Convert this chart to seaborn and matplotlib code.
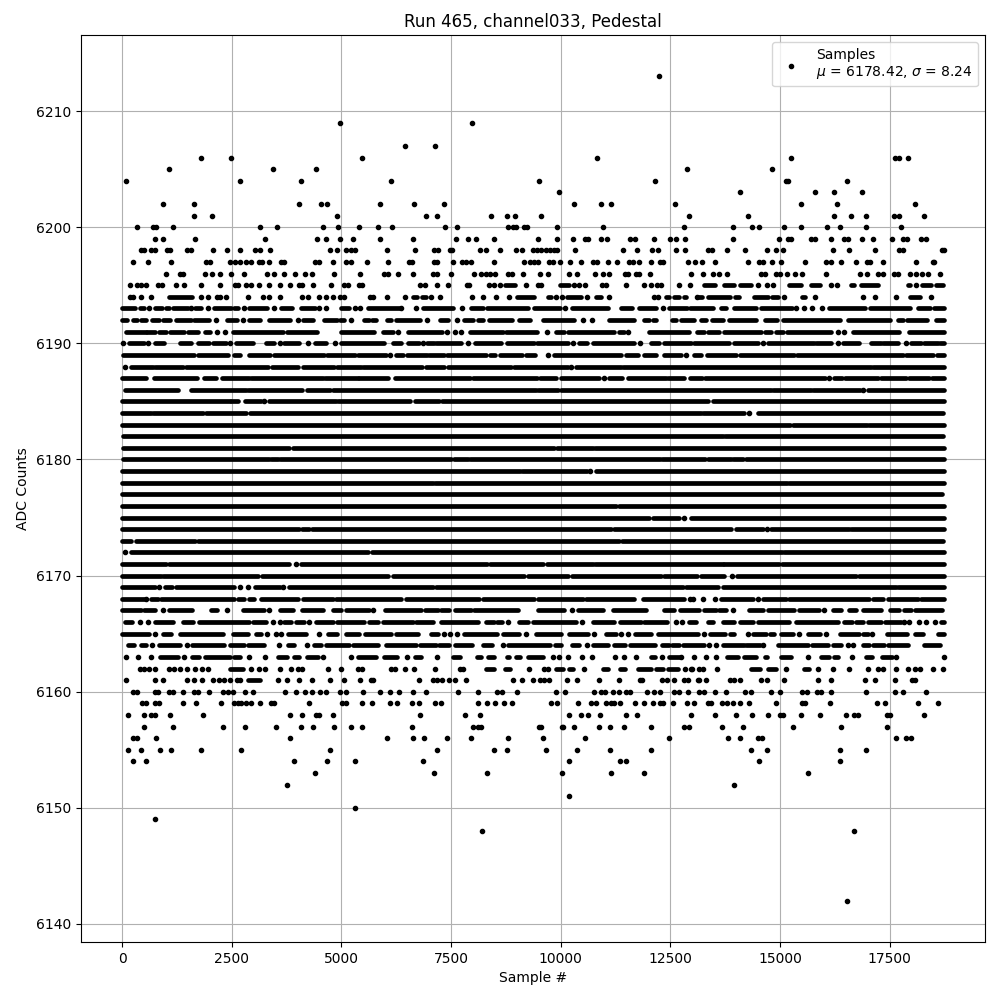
import matplotlib
matplotlib.use("Agg")
import matplotlib.pyplot as plt
import pandas as pd
import seaborn as sns

# Sample positions per ADC level, in hundreds of samples.
# A plain number is one isolated sample; a pair (a, b) is an unbroken run of samples.
level_6213 = [122.5]
level_6209 = [49.8, 79.9]
level_6207 = [64.6, 71.4]
level_6206 = [17.9, 24.9, 54.6, 108.4, 152.6, 176.3, 177.2, 179.3]
level_6205 = [10.6, 34.5, 44.3, 128.9, 148.3]
level_6204 = [0.8, 27, 40.9, 61.4, 95.1, 121.6, 151.5, 151.9, 165.4]
level_6203 = [99.7, 141, 158, 162.4, 168.8]
level_6202 = [9.4, 16.5, 40.4, 45.4, 46.8, 58.9, 66.6, 73.3, 103.1, 109.3, 111.6, 126.1, 154.7, 163.1, 180.9]
level_6201 = [16.3, 20.6, 49.1, 69.4, 71.9, 84.2, 87.8, 89.7, 95.6, 129.3, 142.8, 162.4, 166.1, 169.7, 176.1, 177.2, 182.9]
level_6200 = [3.5, 7.1, 7.8, 11.5, 31.5, 35.4, 45.7, 49.3, 54.1, 58.4, 61.6, 73.7, 76.4, 88.1, 89.2, 89.9, 91.7, 92.4, 99.2, 109.7, 128.2, 139.4, 143.7, 145.3, 151, 154.9, 160.8, 163.6, 169.7, 177.7]
level_6199 = [7.4, 9.4, 16.7, 32.5, 44.5, 46.4, 49.8, 52.7, 58.7, 66.4, 76.2, 78.9, 80.8, 84.7, 94.9, 99.2, 102.9, 105.6, 106.3, 109.3, 110.6, 115.9, 117, 121.4, 125, 126.4, 128.4, 139.4, 149.9, 151.9, 152.6, 157.2, 158.1, 161.7, 164.7, 165.6, 168.8, 171.3, 175.6, 178.1, 179, 182.2, 183.4]
level_6198 = [4.4, 4.9, 6.5, 7.6, 10.3, 11, 14.7, 15.6, 20.8, 24, 27, 30.4, 31.5, 33.8, 47.5, 49.1, 51.1, 52.3, 53.2, 60.5, 66.9, 71.2, 72.1, 74.8, 75.3, 81.7, 83, 86.2, 89.9, 91.3, 93.8, 94.5, 95.6, 96.6, 97.5, 98.5, 99.2, 103.3, 114.3, 117.5, 120.9, 122.3, 126.4, 128.4, 133.5, 134.6, 138, 142.1, 147.1, 149.2, 150.6, 162, 165.8, 171.8, 177.2, 178.1, 187, 187.4]
level_6197 = [2.6, 6, 11.2, 19.2, 20.1, 24.7, 25.8, 26.8, 28.3, 29.5, 31.3, 32, 33.4, 36.3, 37, 43.9, 45, 48.2, 51.1, 52.3, 55.9, 60.7, 65.5, 66, 71.2, 71.7, 75.5, 77.6, 78.5, 79.6, 84.9, 91.7, 93.1, 94, 94.9, 97.4, 98.3, 99.9, 102.2, 104.7, 107.4, 108.4, 110.9, 112.9, 115.7, 116.6, 117.9, 120.7, 122.7, 123.4, 129.1, 130.7, 132.3, 135.1, 142.8, 145.3, 146.2, 148.3, 150.3, 155.8, 160.4, 161.7, 164, 167.4, 169.9, 170.6, 173.6, 181.1, 184.8, 185.2]
level_6196 = [9.9, 13.3, 14, 18.8, 20.6, 22.4, 24.9, 27.7, 33.1, 34.7, 37, 39.5, 41.6, 43.4, 48.4, 54.3, 59.8, 60.7, 63, 66.4, 71, 71.7, 75.1, 80.3, 81.9, 83, 84, 85.1, 88, 89, 91.5, 95.4, 97.2, 101.8, 103.8, 107.9, 109.7, 111.1, 114.7, 115.4, 117.3, 117.9, 120.4, 129.8, 132.5, 134.8, 136.2, 138, 145.8, 146.5, 149.2, 150.1, 151.7, 153.5, 155.1, 160.6, 168.3, 169.9, 172.4, 173.6, 176.1, 177, 179.7, 181.1, 182.5, 183.8, 186.6]
level_6195 = [1.7, 3.5, 4.4, 5.5, 8.1, 9, 12.4, 14.2, 18.1, 22.4, 25.8, 26.5, 28.3, 29.3, 31.3, 33.6, 35.9, 38.4, 40.4, 41.1, 43.6, 47.7, 50.7, 51.6, 54.1, 54.8, 68, 69.1, 71.7, 74.4, 78.7, 79.2, 83.7, 84.9, 86.2, (87.4, 89.7), 92.2, 94.9, 95.6, (99.9, 102), 103.1, 104.3, 105.6, 109.5, 110.4, 115, 119, 120.7, 122, 123, 127, 129.6, (132.8, 135.1), (137.3, 139.6), (141, 143.3), 145.1, 147.1, 148.5, (152.1, 154.9), (157.2, 159.2), 161.7, 163.1, (166.3, 167), (168.6, 172.4), (179.3, 179.7), 181.1, (182.5, 184.5), (185.7, 187.3)]
level_6194 = [1.9, 2.6, 4.4, 6.7, (10.8, 16), 18.1, 19.7, 21.7, 22.4, 23.8, 28.8, 32.2, 33.6, 35.9, 41.1, 42.5, 44.8, 46.4, 48.2, 49.6, 50.7, 56.6, 57.3, 60.5, 64.4, (66.4, 67.3), (68.5, 69.4), 70.5, 72.6, 79.9, 82.4, 85.3, 88.3, (90.1, 94), (97.2, 97.9), 99, 100.4, (101.5, 104.7), 105.9, (108.1, 109.3), 111.1, 121.4, 122.3, (124.1, 124.8), (125.9, 127), (128.2, 128.7), 131.2, (131.2, 132.3), (133.7, 138.7), (139.8, 140.7), (144.2, 147.4), (148.3, 149.6), 151, (155.1, 155.8), 157.9, 169, 171.8, 176.5, (179.7, 182), 184.5]
level_6193 = [(0, 3), (4, 5.1), 6.2, (7.6, 9.2), (10.1, 10.8), (11.7, 15.1), 15.8, (16.7, 18.1), 19.7, (21, 24.9), (25.6, 26.5), 27.9, (29, 33.1), 34.7, (36.3, 38.8), (40.9, 43.9), 45, 46.4, (50, 51.8), 53, 54.3, (56, 63.2), 63.6, 67.1, (68.7, 75.5), 77.6, (79.6, 82.4), (83.1, 92.6), (94, 99.9), 101.1, (102.7, 110.9), (113.8, 116.3), (117.9, 121.8), 123.4, (124.8, 128.9), (129.6, 134.8), (136.6, 137.6), (139.6, 144.6), (145.8, 152.8), 153.7, 155.6, 157.4, 159.7, (161.3, 169.3), (170.6, 179.7), (181.6, 184.3), (185.2, 187.4)]
level_6192 = [(0, 1.1), (2.6, 3.3), (4.2, 5.5), (6.9, 8.5), (9.4, 11), (12.4, 15.6), (16.5, 19.9), 21.5, (24, 26.3), 27.6, (29, 31.5), (33.6, 38.4), 40.2, (41.3, 43.6), (46.1, 48.9), (49.8, 50.7), 52.3, (55.2, 56.2), (57, 58), (60.5, 61.4), (62.5, 68), 69.6, (72.6, 74.4), 76.4, (78, 80), (81.2, 82.4), (83.7, 88.8), (90.4, 93.1), (96, 103.1), 105.2, 107.2, (111.1, 116.8), (119, 120.2), (121.1, 121.8), (125.3, 126.4), (127.5, 130.5), (131.9, 133.2), (134.6, 137.1), (138.5, 144.6), (146.5, 149.4), (150.6, 163.8), (165.6, 175), (177, 178), (179, 183.6), (185.7, 187.4)]
level_6191 = [(0.9, 5.4), (5.6, 7.6), (8.5, 10.1), (11, 14.2), (15.1, 17.2), (19, 20.1), 21.7, 23.5, (25.4, 36.8), (37.5, 44.5), (50, 57.5), (59.4, 61.7), 63, (65.1, 72.9), 74.2, 75.8, 77.3, (79.4, 86.8), (87.5, 94.5), 96.8, (99, 100.7), (101.6, 112.2), (113.4, 114.5), 115.3, (120.2, 129.3), (131.2, 132.8), (133.5, 136.2), (137.3, 145.7), (146.5, 148), (149, 150.6), (151.6, 161.7), 163.2, 164.7, (166.6, 177.2), (179.5, 187.4)]
level_6190 = [0.2, (1.6, 5.1), 6, (7.4, 9.6), (13.1, 15.7), (17.2, 19.9), (20.7, 23.7), 24.5, (26, 29.8), (32.8, 34.7), 35.9, (37, 40.4), 42.5, (44, 46.5), 48.6, (49.9, 59.8), (61.7, 63.6), (65.3, 67.8), 68.7, (69.5, 71.2), (71.6, 77.3), 78.9, (80.5, 86.4), (87.7, 94), (94.7, 101.6), 102.9, (104.2, 106.1), (107.3, 116.8), 118.1, (120.6, 122.5), (123.6, 129.7), (130.5, 138.5), (139.6, 145), 146.1, (147.2, 157.8), (158.2, 161.7), 163.2, (164.3, 168.1), (170.8, 173.1), (173.6, 177), 178.8, (180, 182.2), (182.8, 186), (186.6, 187.4)]
level_6189 = [(0.2, 16.5), (17.2, 24.2), (25.6, 27), (29, 33.8), (34.6, 46), (46.7, 53.1), (53.9, 60.2), 61, (62.4, 64), (65, 69.5), (70, 73.5), (74, 83), (83.9, 85), (86.2, 91.1), (92, 94.1), 97.2, (98.5, 113.7), (114.9, 117.7), (119, 121.7), (123.5, 127.4), 128.7, (130.3, 131.9), (133.4, 140), (141, 153.3), (154, 178), (178.8, 185), (185.8, 187.4)]
level_6188 = [0.7, (2, 7), (7.5, 13.8), (14.6, 33.2), (34.1, 40.2), (41.2, 48.4), (49, 54.5), (55, 68.5), (69.3, 73.5), (74.4, 88.7), (89.3, 101.6), 102.4, (103.5, 113.7), (114.3, 170.8), (171.3, 187.4)]
level_6187 = [(0, 5.5), (7.2, 17), (18.6, 21.4), (22.7, 29), (29.5, 45.7), (46.3, 53.7), (54.1, 60.6), (62.2, 79.3), (80.1, 94.5), (95.3, 98.9), (100, 108.8), 109.9, (111.1, 114.1), (115.3, 124), (124.5, 128.2), (129.4, 132.2), (132.9, 160.3), 161.3, (162.4, 164.1), (164.8, 172.4), (173, 178.8), (179.5, 184.1), (184.6, 187.4)]
level_6186 = [(0.7, 12.7), (15.7, 28.3), (28.8, 41), (42.2, 47.5), (48, 94.4), (94.9, 99.5), (100, 148), (148.4, 157.1), (157.5, 168.3), 169, (170, 187.4)]
level_6185 = [(0, 24.5), (24.8, 26.5), (28, 31.7), 32.4, (33.6, 48.8), (49.3, 65.7), (66.8, 72.3), (72.9, 133.7), (134.7, 187.4)]
level_6184 = [(0, 6.6), (7, 18.4), (19.2, 28.3), (29.2, 131.9), (132.4, 141.9), 143, (145.1, 187.3)]
level_6183 = [(0, 152.4), (153.1, 169.8), (170.4, 187.4)]
level_6182 = [(0.1, 137.1), (137.5, 187.3)]
level_6181 = [(0.2, 38.1), (38.9, 98.5), (99.1, 107.3), (107.8, 187.4)]
level_6180 = [(0.2, 33.4), (34, 35.6), (36, 75), (75.7, 78.9), (79.4, 122.7), (123.2, 133), (133.5, 138.9), (139.4, 141.7), (142.3, 187.4)]
level_6179 = [(0, 90.8), (91.3, 106.1), 106.7, (108, 187.4)]
level_6178 = [(0, 71), (71.4, 151.6), (152, 187.4)]
level_6177 = [(0, 187)]
level_6176 = [(0, 112.6), (113.4, 187.4)]
level_6175 = [(0, 120.2), (121, 127), 128.2, (129.7, 187.4)]
level_6174 = [(0, 40.4), (41, 42.7), (43.2, 111.6), (112.2, 138.9), (139.9, 146.1), 147, (148, 165.7), (166.2, 187.4)]
level_6173 = [(0, 2), (3.2, 16.7), (17.2, 113.4), (113.9, 187.3)]
level_6172 = [0.7, (2, 56), (57, 150.4), (150.9, 187.4)]
level_6171 = [(0, 10), (10.6, 38.1), 39.7, (40.8, 83.3), (83.9, 96), (96.8, 107.3), (107.8, 137), (137.3, 149.9), (150.5, 187.4)]
level_6170 = [(0, 8.9), (9.3, 30.9), (32, 60.6), (61.7, 91.7), (92.6, 101.6), (102.7, 122.9), (123.5, 131.2), (132, 137.2), 139.1, (140.2, 167.4), (168, 187.4)]
level_6169 = [(0, 7.4), 8.5, (9.8, 11.4), (12.3, 25.6), 26.8, 28.8, (30.2, 35.9), 36.8, (38.1, 71), (71.5, 127.8), (128.6, 135.8), (137, 176.5), (176.9, 187.4)]
level_6168 = [(0, 4.9), 5.5, (6.6, 8.1), (8.9, 25.6), (26.4, 27.9), (29, 30), (31.7, 40), (41.2, 48), (48.8, 63.6), (64.7, 81.5), (82.2, 94), (94.8, 105), (105.8, 116.8), (118.7, 128.2), 129.6, 130.1, 132.5, 135.1, (136.6, 143.8), 144.9, (146.1, 151.4), (152, 170.4), (171.2, 173.4), (174.6, 181.4), (182.2, 187.4)]
level_6167 = [(0, 4.3), (5.1, 7.4), 9.4, (10.8, 15.9), (20.3, 21.7), 24, (27.5, 32.3), 33.6, (35.9, 38.9), (41, 45.7), (48, 49.9), (51.1, 56.4), 57.3, (60, 68.2), (69, 72), (72.7, 74.6), (75.8, 79.6), (80.3, 90.2), (94.8, 100.8), 102.7, (103.9, 109.6), (111.9, 119.5), (123.6, 125.9), (127.3, 131.6), (132.8, 135.4), (136.2, 137.7), 139.2, (143, 146.1), (147.4, 153.3), (154.4, 159), 160, (162, 164), (165.8, 167.4), (168.9, 173.1), (175, 177.2), (178.2, 179.9), (180.9, 187)]
level_6166 = [(0.7, 2.2), 4.1, 6, (7.5, 11.5), (14, 16.1), (17.6, 29), (29.8, 32.8), 34.3, 36.1, (37, 38.5), (39.7, 41.4), 42.7, (44.2, 48), (49, 55.2), (56.4, 58.3), (59.4, 66.3), (67, 70.8), (72.7, 81.2), (83, 84.9), (85.6, 86.6), 88, (90.6, 92.5), (93.6, 103.5), 104.8, (107.3, 112.2), (113.6, 118.3), (119, 124.3), 126.3, 127.7, (129.3, 130.9), (133.5, 134.7), (137, 139.6), (140.8, 143.8), (144.9, 152.1), (153.7, 163.2), (164.7, 166.4), (167.4, 168.9), (170.2, 173.1), (174, 177.6), 178.2, 179.5, 181.8, 183.3, 185.4, (186.7, 187.4)]
level_6165 = [(0, 6.2), 7.6, (9.3, 11.2), (13.1, 23), (25.2, 28.6), (30.5, 31.7), 33, 35, 36.3, (37.8, 42), 45, (47, 49), (51.1, 54.1), (55.5, 61.3), (62.5, 67.4), (70.4, 72.1), 73.3, 74.8, 76.4, (78, 85.6), (86.8, 90.4), 92, (94.4, 100.1), (102, 106.2), 107.7, (110.3, 112.6), 113.8, 115.4, (117, 120.6), (122.1, 131.4), 132.8, (134.1, 137.5), (138.7, 139.6), 142.8, (143.8, 146.8), (147.8, 148.7), (150.3, 153.1), 154.4, (156.3, 159.2), 160.4, (163.8, 168.1), (168.9, 170.2), 171.1, (174.4, 179), (180.9, 182.6), (186.1, 187.4)]
level_6164 = [(1.4, 2.8), (4.3, 5.5), 6.9, (8.5, 13.3), 14.7, (15.9, 23.3), (24.7, 27.9), (28.8, 32.4), 35.7, (37.9, 39.3), 42.2, (43.8, 45.4), (46.5, 51.8), (52.7, 58.3), (60.2, 67), (68, 71.6), (72.3, 74.6), (75.8, 79.8), (82.2, 84.3), 86.8, (88.1, 97.6), (98.7, 100.1), (102.5, 104.3), 105.9, (107.3, 110.9), (112.2, 114.7), (115.9, 121.5), (123.1, 124.8), (125.5, 127), (128, 132.8), 133.9, 135.5, (137, 141.9), (142.3, 145.5), 146.2, (149.5, 156.3), (157.3, 160.9), (162, 164), 165.5, 166.6, (168.9, 170.4), (171.2, 173.8), (174.6, 179.1), (182.8, 186.4)]
level_6163 = [0.8, 3.7, 6.7, (8.7, 12.8), 14.2, (15.9, 17.6), (19, 24.5), (25.6, 27), 29, 32.7, (35.6, 37.5), (39.1, 40.4), (42.2, 44.6), 45.7, 52.3, (53.7, 57.9), (59.8, 62.7), 65, (66.8, 68.2), 71.7, (75.5, 77.1), (80.9, 81.8), (83.5, 84.7), (87.8, 88.3), (89.8, 90.8), (92.6, 95.9), 98.3, 99.7, 101.6, 104.9, 107.2, 112.5, 114.5, 117.2, (120.6, 121.6), 123.2, (124.8, 127), 127.45, 130.5, 133.2, 135.5, (138, 140.5), (141.9, 144.6), (146.5, 147.1), (150.3, 152.5), 156.5, (159.4, 161.3), (162.4, 163.2), 166.5, (169.7, 171.1), (173.3, 175.5), 176.5, 187.4]
level_6162 = [4, 4.9, 6.2, 7.6, 10.6, 11.9, 13.1, 14.7, 16.7, 18.3, 19.5, (24.5, 27.5), 29.5, 31.3, 32.5, 35.9, 38.6, 40.2, 41.1, 47, 50, 53.9, 54.6, 61.4, 62.3, 64.4, 66.6, 71.4, 77.1, 77.8, (83, 84.9), (87.4, 88.5), 92.9, 96.3, 97.2, (98.9, 100.5), (102, 102.9), 105.4, (109.6, 110.7), (113.6, 114.7), (117.7, 120.6), (121.7, 123.3), (124.4, 126.7), 128.4, 129.8, 130, 131.6, 132.5, 135.7, (143.3, 145.5), (147.4, 149), 151.5, (155.6, 156.7), 158.8, 162, 165.8, 170.2, 172.4, 173.4, 176.5, 179.3, 180.7, 182, 184.8, 187.3]
level_6161 = [0.8, 7.4, 9.4, 14.9, 16.3, 18.3, 20.8, 22, 23.3, 24.7, 26.3, 27, (28.6, 31.5), 35.6, 37.7, 40.4, 43.4, 47.3, 50.5, 54.3, 56.8, 57.3, 67.6, 71, 71.7, 73, 74.6, 75.8, 78.5, 89.2, 91.3, 93.8, 95.4, 96.1, 97.4, 101.5, 103.8, 108.8, 113.4, 118.2, 118.6, 123.2, 124.3, 125.9, 128.2, 129.1, 131.4, 131.6, 133.2, 138.7, 139.6, 141, 145.8, 147.1, 151, 158.8, 161.7, 169.3, 171.8, 176.3, 180.2, 180.7]
level_6160 = [2.6, 3.5, 7.4, 8.1, 10.8, 11.5, 14, 16.5, 17.4, 19.9, 22.9, 24.2, 25.2, 28.1, 29.9, 37.2, 39.7, 41.6, 43.4, 45.2, 46.6, 49.8, 51.1, 55, 58.9, 61.2, 63.2, 66.4, 69.4, 76.7, 81.2, 85.6, 86.7, 90.1, 99, 101.1, 107.7, 109.3, 110.2, 112, 113.2, 115, 115.9, 119.8, 121.4, 122.7, 125.9, 127, 129.1, 131.6, 132.8, 135.3, 137.8, 142.1, 143.5, 148, 150.1, 155.1, 156.2, 158.5, 159.4, 161.7, 169.7, 176.3, 178.1, 183.4]
level_6159 = [4.6, 5.5, 7.6, 8.5, 14, 16.9, 22.6, 25.6, 26.5, 27.2, 28.3, 29.3, 31.5, 34, 34.7, 42.7, 50.2, 51.1, 54.8, 57, 61, 62.8, 66, 67.6, 71.4, 72.8, 81.2, 83.3, 85.1, 87.2, 89, 97.9, 99.2, 104, 107, 108.1, 110.4, 111.6, 112.2, 113.6, 117, 118.9, 121.1, 122.7, 123.4, 125.7, 128.9, 130.5, 133.5, 134.4, 136.9, 138, 139.2, 141, 143, 149.2, 155.1, 155.8, 161.5, 172.2, 174, 181.4, 186.1]
level_6158 = [1.4, 4.9, 6.7, 7.6, 11, 18.5, 38.2, 41.1, 44.3, 45, 48.2, 68, 78.3, 81.7, 101.8, 104.7, 106.3, 109, 115, 117.5, 129.8, 135.3, 140.1, 143.7, 147.4, 150.1, 150.8, 154.7, 159.2, 165.1, 167, 167.7, 174.5, 175.2, 182.9]
level_6157 = [5.1, 11.5, 22.9, 28.1, 35, 40.7, 43.6, 48.4, 52.3, 54.8, 66, 80.1, 81.2, 81.9, 95.1, 95.6, 100.2, 100.6, 103.1, 108.8, 111.3, 114.5, 120.7, 128.2, 129.3, 136.9, 141.7, 153, 164, 174.5]
level_6156 = [2.6, 3.3, 7.8, 38.2, 60.5, 66.4, 68.9, 74.2, 79.6, 88.1, 96, 105.6, 124.6, 138.2, 140.8, 144.9, 146, 176.5, 178.8, 180]
level_6155 = [1.4, 4.2, 8.7, 11.2, 18.1, 27.2, 47.5, 71.9, 84.9, 87.8, 96.7, 103.8, 111.3, 120.7, 143.3, 147.1, 163.6, 169.7]
level_6154 = [2.4, 5.5, 39.3, 46.8, 53.2, 68.7, 101.8, 113.6, 115, 145.3, 163.6]
level_6153 = [44.1, 71.2, 83.3, 100.2, 111.6, 118.9, 156.5]
level_6152 = [37.5, 139.6]
level_6151 = [102]
level_6150 = [53]
level_6149 = [7.4]
level_6148 = [82.1, 167]
level_6142 = [165.4]

adc_levels = [6213, 6209, 6207, 6206, 6205, 6204, 6203, 6202, 6201, 6200, 6199, 6198, 6197, 6196, 6195, 6194,
              6193, 6192, 6191, 6190, 6189, 6188, 6187, 6186, 6185, 6184, 6183, 6182, 6181, 6180, 6179, 6178,
              6177, 6176, 6175, 6174, 6173, 6172, 6171, 6170, 6169, 6168, 6167, 6166, 6165, 6164, 6163, 6162,
              6161, 6160, 6159, 6158, 6157, 6156, 6155, 6154, 6153, 6152, 6151, 6150, 6149, 6148, 6142]
level_samples = [globals()[f"level_{lev}"] for lev in adc_levels]

title_text = "Run 465, channel033, Pedestal"
x_label = "Sample #"
y_label = "ADC Counts"
legend_label = "Samples\n$\\mu$ = 6178.42, $\\sigma$ = 8.24"

dot_rows = []
run_rows = []
run_id = 0
for lev, items in zip(adc_levels, level_samples):
    for item in items:
        if isinstance(item, tuple):
            run_rows.append({"run": run_id, "sample": item[0] * 100, "adc": lev})
            run_rows.append({"run": run_id, "sample": item[1] * 100, "adc": lev})
            run_id += 1
        else:
            dot_rows.append({"sample": item * 100, "adc": lev})
dots = pd.DataFrame(dot_rows)
runs = pd.DataFrame(run_rows)

fig, ax = plt.subplots(figsize=(10, 10), dpi=100)
ax.grid(True)
sns.lineplot(data=runs, x="sample", y="adc", units="run", estimator=None, sort=False,
             color="black", linewidth=3.4, solid_capstyle="round", legend=False, ax=ax, zorder=2)
sns.scatterplot(data=dots, x="sample", y="adc", marker=".", s=36, color="black",
                edgecolor="black", linewidth=1, label=legend_label, legend=False, ax=ax, zorder=2)
ax.legend(loc="upper right")
ax.set_title(title_text, pad=5.5)
ax.set_xlabel(x_label)
ax.set_ylabel(y_label)
fig.subplots_adjust(left=0.081, right=0.985, top=0.965, bottom=0.058)
fig.savefig("out.png", dpi=100)
